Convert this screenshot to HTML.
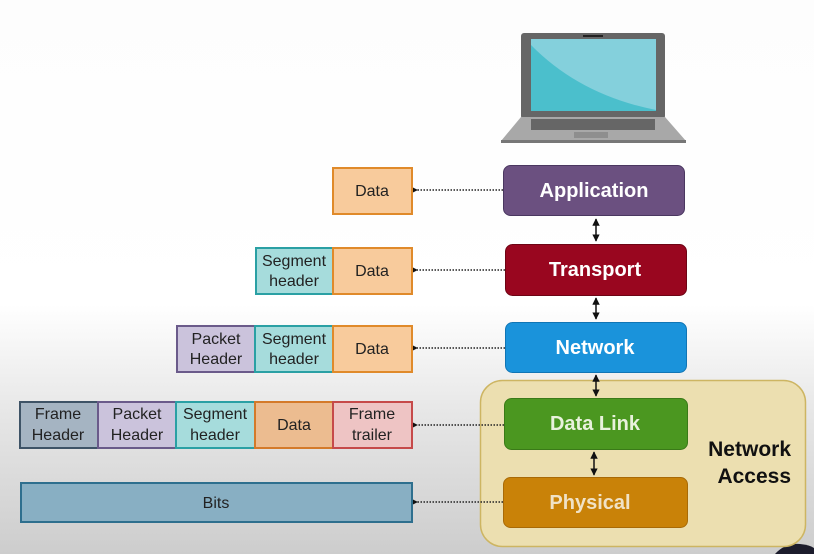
<!DOCTYPE html>
<html><head><style>
html,body{margin:0;padding:0;width:814px;height:554px;overflow:hidden}
svg{display:block;overflow:hidden}
text{font-family:"Liberation Sans",sans-serif}
</style></head><body>
<svg width="814" height="554" viewBox="0 0 814 554" xmlns="http://www.w3.org/2000/svg">
<defs>
<linearGradient id="bg" x1="0" y1="0" x2="0" y2="1">
<stop offset="0" stop-color="#fdfdfd"/>
<stop offset="0.55" stop-color="#ffffff"/>
<stop offset="0.75" stop-color="#e6e6e6"/>
<stop offset="1" stop-color="#cdcdcd"/>
</linearGradient>
<marker id="ah" viewBox="0 0 10 10" refX="1" refY="5" markerWidth="6" markerHeight="6" orient="auto-start-reverse">
<path d="M10 0 L0 5 L10 10 z" fill="#111"/>
</marker>
<marker id="va" viewBox="0 0 10 10" refX="9" refY="5" markerWidth="5" markerHeight="5" orient="auto-start-reverse">
<path d="M0 0 L10 5 L0 10 z" fill="#111"/>
</marker>
</defs>
<rect width="814" height="554" fill="url(#bg)"/>
<path d="M775 554 Q785 543 800 544 Q810 545 814 548 L814 554 Z" fill="#1c1c2c"/>

<!-- laptop -->
<rect x="521" y="33" width="144" height="86" rx="3" fill="#666"/>
<rect x="531" y="39" width="125" height="72" fill="#4bbfcc"/>
<path d="M531 39 L656 39 L656 110 Q580 95 531 45 Z" fill="#84d0dc"/>
<rect x="583" y="35" width="20" height="2" fill="#222"/>
<path d="M521 117 L665 117 L686 141 L501 141 Z" fill="#a8a8a8"/>
<rect x="531" y="119" width="124" height="11" fill="#666"/>
<rect x="574" y="132" width="34" height="6" fill="#8e8e8e"/>
<rect x="501" y="140" width="185" height="3" fill="#777"/>

<!-- network access -->
<rect x="480.5" y="380.5" width="325" height="166" rx="22" fill="#ecdfb0" stroke="#cdb562" stroke-width="1.5"/>
<text x="791" y="456" font-size="21" font-weight="bold" text-anchor="end" fill="#111">Network</text>
<text x="791" y="483" font-size="21" font-weight="bold" text-anchor="end" fill="#111">Access</text>

<!-- layers -->
<g font-size="20" font-weight="bold" text-anchor="middle">
<rect x="503.5" y="165.5" width="181" height="50" rx="7" fill="#6b5080" stroke="#4a3760"/>
<text x="594" y="197" fill="#fff">Application</text>
<rect x="505.5" y="244.5" width="181" height="51" rx="7" fill="#99061f" stroke="#6d0414"/>
<text x="595" y="276" fill="#fff">Transport</text>
<rect x="505.5" y="322.5" width="181" height="50" rx="7" fill="#1a93db" stroke="#1075b5"/>
<text x="595" y="354" fill="#fff">Network</text>
<rect x="504.5" y="398.5" width="183" height="51" rx="7" fill="#4b9720" stroke="#3a7a18"/>
<text x="595" y="430" fill="#e8f2dc">Data Link</text>
<rect x="503.5" y="477.5" width="184" height="50" rx="7" fill="#c98208" stroke="#a86a06"/>
<text x="590" y="509" fill="#f0e2c6">Physical</text>
</g>

<!-- vertical arrows -->
<g stroke="#111" stroke-width="1.5">
<line x1="596" y1="219" x2="596" y2="241" marker-start="url(#va)" marker-end="url(#va)"/>
<line x1="596" y1="298" x2="596" y2="319" marker-start="url(#va)" marker-end="url(#va)"/>
<line x1="596" y1="375" x2="596" y2="396" marker-start="url(#va)" marker-end="url(#va)"/>
<line x1="594" y1="452" x2="594" y2="475" marker-start="url(#va)" marker-end="url(#va)"/>
</g>

<!-- dotted -->
<g stroke="#222" stroke-width="1.5" stroke-dasharray="1.5 1.5">
<line x1="503" y1="190" x2="417" y2="190" marker-end="url(#ah)"/>
<line x1="505" y1="270" x2="417" y2="270" marker-end="url(#ah)"/>
<line x1="505" y1="348" x2="417" y2="348" marker-end="url(#ah)"/>
<line x1="504" y1="425" x2="417" y2="425" marker-end="url(#ah)"/>
<line x1="503" y1="502" x2="417" y2="502" marker-end="url(#ah)"/>
</g>

<!-- data boxes -->
<g font-size="16" text-anchor="middle" fill="#222" stroke-width="2">
<rect x="333" y="168" width="79" height="46" fill="#f8cb9c" stroke="#e08a2a"/>
<text x="372" y="196" fill="#222">Data</text>

<rect x="256" y="248" width="77" height="46" fill="#a6dcdc" stroke="#2aa0a4"/>
<rect x="333" y="248" width="79" height="46" fill="#f8cb9c" stroke="#e08a2a"/>
<text x="294" y="266">Segment</text><text x="294" y="286">header</text>
<text x="372" y="276">Data</text>

<rect x="177" y="326" width="78" height="46" fill="#cbc3dc" stroke="#6a5a8a"/>
<rect x="255" y="326" width="78" height="46" fill="#a6dcdc" stroke="#2aa0a4"/>
<rect x="333" y="326" width="79" height="46" fill="#f8cb9c" stroke="#e08a2a"/>
<text x="216" y="344">Packet</text><text x="216" y="364">Header</text>
<text x="294" y="344">Segment</text><text x="294" y="364">header</text>
<text x="372" y="354">Data</text>

<rect x="20" y="402" width="78" height="46" fill="#a5b4c2" stroke="#3e5366"/>
<rect x="98" y="402" width="78" height="46" fill="#cbc3dc" stroke="#6a5a8a"/>
<rect x="176" y="402" width="79" height="46" fill="#a6dcdc" stroke="#2aa0a4"/>
<rect x="255" y="402" width="78" height="46" fill="#ecbc90" stroke="#d47a2a"/>
<rect x="333" y="402" width="79" height="46" fill="#eec4c4" stroke="#c64a4a"/>
<text x="58" y="419">Frame</text><text x="58" y="440">Header</text>
<text x="137" y="419">Packet</text><text x="137" y="440">Header</text>
<text x="215" y="419">Segment</text><text x="215" y="440">header</text>
<text x="294" y="430">Data</text>
<text x="372" y="419">Frame</text><text x="372" y="440">trailer</text>

<rect x="21" y="483" width="391" height="39" fill="#88afc3" stroke="#2e6f8e"/>
<text x="216" y="508">Bits</text>
</g>
</svg>
</body></html>
